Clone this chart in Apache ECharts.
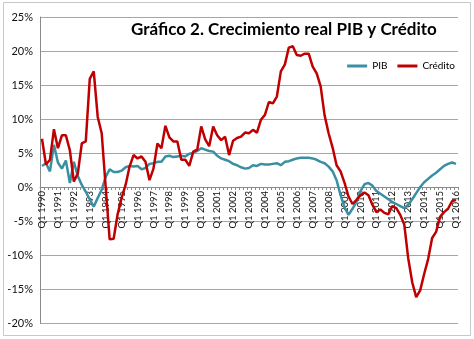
<!DOCTYPE html>
<html><head><meta charset="utf-8">
<script src="https://cdn.jsdelivr.net/npm/echarts@6/dist/echarts.min.js"></script>
<style>html,body{margin:0;padding:0;background:#fff}#c{width:474px;height:339px}</style>
</head><body><div id="c"></div>
<script>
// categories: quarters Q1 1990 .. Q1 2016
const categories = [];
for (let y = 1990; y <= 2016; y++) {
  for (let q = 1; q <= 4; q++) {
    if (y === 2016 && q > 1) break;
    categories.push('Q' + q + ' ' + y);
  }
}
const pib = [
 3.1,3.5,2.3,6.2,3.6,2.7,3.9,0.6,3.7,1.6,
 0.3,-0.7,-1.8,-2.9,-1.6,-0.4,1.5,2.6,2.2,2.2,
 2.4,2.9,3.1,3.0,3.1,2.6,2.8,3.4,3.5,3.7,
 3.7,4.5,4.6,4.4,4.5,4.6,4.5,4.9,5.0,5.3,
 5.7,5.5,5.3,5.2,4.6,4.2,4.0,3.8,3.4,3.2,
 2.9,2.7,2.8,3.2,3.1,3.4,3.3,3.3,3.4,3.5,
 3.2,3.7,3.8,4.0,4.2,4.3,4.3,4.3,4.2,4.0,
 3.7,3.5,3.0,2.3,1.0,-1.2,-3.0,-4.1,-3.2,-2.2,
 -0.6,0.4,0.6,0.2,-0.6,-1.0,-1.4,-1.8,-2.2,-2.5,
 -2.8,-3.1,-2.6,-1.8,-0.9,0.0,0.7,1.2,1.7,2.1,
 2.6,3.1,3.4,3.6,3.4
];
const credito = [
 7.1,3.3,4.0,8.5,5.7,7.6,7.6,5.4,0.8,2.0,
 6.4,6.7,15.9,17.0,10.3,7.9,0.0,-7.7,-7.6,-4.0,
 -1.6,0.3,3.0,4.7,4.2,4.5,3.7,1.0,2.7,6.4,
 5.7,9.0,7.3,6.7,6.7,4.0,4.0,3.1,5.2,5.5,
 8.9,7.0,6.0,8.9,7.6,6.9,7.4,4.7,6.8,7.2,
 7.4,8.0,7.9,8.4,8.0,9.9,10.6,12.5,12.3,13.3,
 17.0,18.0,20.5,20.7,19.4,19.3,19.6,19.6,17.7,16.7,
 14.8,10.5,7.9,5.8,3.2,2.3,0.6,-1.4,-2.5,-1.9,
 -1.2,-0.8,-1.2,-2.6,-3.7,-3.3,-3.8,-4.0,-2.8,-3.1,
 -4.1,-5.5,-10.5,-14.0,-16.2,-15.2,-12.8,-10.6,-7.5,-6.6,
 -4.4,-3.7,-3.2,-2.1,-1.9
];
const yTicks = { min: -20, max: 25, interval: 5 };

const GRID_TOP = 17, GRID_BOTTOM = 16, H = 339;
const plotH = H - GRID_TOP - GRID_BOTTOM;
// distance from bottom of plot to the 0% line (x axis crosses at zero, as in the reference)
const zeroOffset = plotH * (0 - yTicks.min) / (yTicks.max - yTicks.min);

const chart = echarts.init(document.getElementById('c'));
chart.setOption({
  animation: false,
  textStyle: { fontFamily: 'Lato' },
  title: {
    text: 'Gráfico 2. Crecimiento real PIB y Crédito',
    left: 126, top: 16,
    textStyle: { fontFamily: 'Lato', fontWeight: 'bold', fontSize: 17, color: '#000' }
  },
  legend: {
    right: 14, top: 56,
    icon: 'rect', itemWidth: 20, itemHeight: 3, itemGap: 10,
    textStyle: { fontSize: 10, color: '#000', fontFamily: 'Lato' },
    data: ['PIB', 'Crédito']
  },
  graphic: [{
    type: 'rect', shape: { x: 3.5, y: 2.5, width: 467, height: 333 },
    style: { fill: 'none', stroke: '#c8c8c8', lineWidth: 1 }, silent: true, z: -1
  }],
  grid: { left: 40, right: 16, top: GRID_TOP, bottom: GRID_BOTTOM, containLabel: false, outerBoundsMode: 'none' },
  xAxis: {
    type: 'category', data: categories, boundaryGap: true,
    position: 'bottom', offset: -zeroOffset,
    axisLine: { onZero: false, lineStyle: { color: '#8a8a8a', width: 1 } },
    axisTick: { show: true, interval: 0, length: 3, lineStyle: { color: '#8a8a8a' } },
    axisLabel: { interval: 3, rotate: 90, fontSize: 9.5, color: '#111', margin: 4, fontFamily: 'Lato' },
    splitLine: { show: false }
  },
  yAxis: {
    type: 'value', min: yTicks.min, max: yTicks.max, interval: yTicks.interval,
    axisLine: { show: true, lineStyle: { color: '#8a8a8a' } },
    axisTick: { show: false },
    axisLabel: { formatter: '{value}%', fontSize: 11, color: '#111', margin: 7, fontFamily: 'Lato' },
    splitLine: { lineStyle: { color: '#a6a6a6', width: 1 } }
  },
  series: [
    { name: 'PIB', type: 'line', data: pib, showSymbol: false, symbol: 'none',
      lineStyle: { color: '#3A8FA3', width: 2.5 }, itemStyle: { color: '#3A8FA3' } },
    { name: 'Crédito', type: 'line', data: credito, showSymbol: false, symbol: 'none',
      lineStyle: { color: '#C00000', width: 2.5 }, itemStyle: { color: '#C00000' } }
  ]
});
</script></body></html>
